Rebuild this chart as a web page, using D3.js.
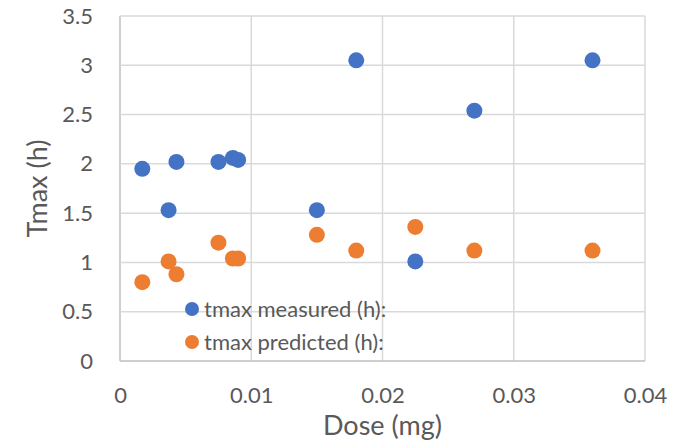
<!DOCTYPE html>
<html>
<head>
<meta charset="utf-8">
<script src="https://cdn.jsdelivr.net/npm/d3@7"></script>
<style>
  body { margin: 0; background: #fff; }
  text { font-family: Lato, "Open Sans", sans-serif; fill: #595959; }
</style>
</head>
<body>
<div id="chart"></div>
<script>
// dose (mg) for every sample
var dose = [0.0017, 0.0037, 0.0043, 0.0075, 0.0086, 0.009, 0.015, 0.018, 0.0225, 0.027, 0.036];
var tmaxMeasured = [1.95, 1.53, 2.02, 2.02, 2.06, 2.04, 1.53, 3.05, 1.01, 2.54, 3.05];
var tmaxPredicted = [0.80, 1.01, 0.88, 1.20, 1.04, 1.04, 1.28, 1.12, 1.36, 1.12, 1.12];
var seriesNames = ["tmax measured (h):", "tmax predicted (h):"];
var xTicks = [0, 0.01, 0.02, 0.03, 0.04];
var yTicks = [0, 0.5, 1, 1.5, 2, 2.5, 3, 3.5];

var colors = ["#4472C4", "#ED7D31"];

var W = 683, H = 442;
var margin = {top: 16, right: 38, bottom: 81, left: 120};
var width = W - margin.left - margin.right;
var height = H - margin.top - margin.bottom;

var svg = d3.select("#chart").append("svg")
    .attr("width", W)
    .attr("height", H);

var g = svg.append("g")
    .attr("transform", "translate(" + margin.left + "," + margin.top + ")");

var x = d3.scaleLinear().domain([0, 0.04]).range([0, width]);
var y = d3.scaleLinear().domain([0, 3.5]).range([height, 0]);

// grid
g.selectAll(".vgrid").data(xTicks).enter().append("line")
    .attr("x1", function(d){ return x(d); })
    .attr("x2", function(d){ return x(d); })
    .attr("y1", 0).attr("y2", height)
    .attr("stroke", function(d){ return d === 0 ? "#bfbfbf" : "#d9d9d9"; })
    .attr("stroke-width", 1.5);

g.selectAll(".hgrid").data(yTicks).enter().append("line")
    .attr("x1", 0).attr("x2", width)
    .attr("y1", function(d){ return y(d); })
    .attr("y2", function(d){ return y(d); })
    .attr("stroke", function(d){ return d === 0 ? "#bfbfbf" : "#d9d9d9"; })
    .attr("stroke-width", 1.5);

// tick labels
var xAxis = g.append("g")
    .attr("transform", "translate(0," + height + ")")
    .call(d3.axisBottom(x).tickValues(xTicks).tickSize(0).tickPadding(26)
        .tickFormat(function(d){ return d === 0 ? "0" : d3.format(".2f")(d); }));
xAxis.select(".domain").remove();
xAxis.selectAll("text").style("font-size", "22px").attr("fill", "#595959");

var yAxis = g.append("g")
    .call(d3.axisLeft(y).tickValues(yTicks).tickSize(0).tickPadding(27)
        .tickFormat(function(d){ return String(d); }));
yAxis.select(".domain").remove();
yAxis.selectAll("text").style("font-size", "22px").attr("fill", "#595959");

// axis titles
svg.append("text")
    .attr("x", margin.left + width / 2)
    .attr("y", 435)
    .attr("text-anchor", "middle")
    .style("font-size", "27px")
    .text("Dose (mg)");

svg.append("text")
    .attr("transform", "translate(47," + (margin.top + height / 2) + ") rotate(-90)")
    .attr("text-anchor", "middle")
    .style("font-size", "27px")
    .text("Tmax (h)");

// points
var series = [tmaxMeasured, tmaxPredicted];
series.forEach(function(vals, si){
    g.selectAll(".pt" + si)
        .data(dose.map(function(d, i){ return {x: d, y: vals[i]}; }))
        .enter().append("circle")
        .attr("class", "pt" + si)
        .attr("cx", function(d){ return x(d.x); })
        .attr("cy", function(d){ return y(d.y); })
        .attr("r", 8)
        .attr("fill", colors[si]);
});

// legend (no background, sits over the grid)
var legend = svg.append("g").attr("transform", "translate(192,309)");
seriesNames.forEach(function(name, i){
    var row = legend.append("g").attr("transform", "translate(0," + (i * 33) + ")");
    row.append("circle").attr("r", 7).attr("fill", colors[i]);
    row.append("text")
        .attr("x", 12)
        .attr("dy", "0.35em")
        .style("font-size", "22px")
        .text(name);
});
</script>
</body>
</html>
